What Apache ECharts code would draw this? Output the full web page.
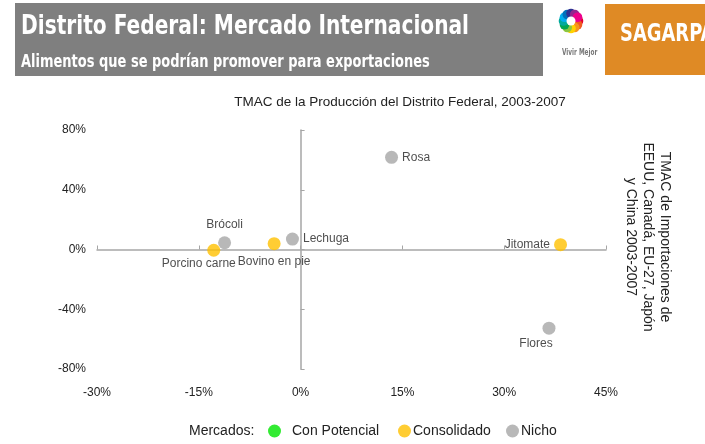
<!DOCTYPE html>
<html>
<head>
<meta charset="utf-8">
<script src="https://cdn.jsdelivr.net/npm/echarts@6/dist/echarts.min.js"></script>
<style>
  html, body { margin: 0; padding: 0; background: #fff; }
  #chart { width: 705px; height: 444px; }
</style>
</head>
<body>
<div id="chart"></div>
<script>
// datos
const productos = ["Rosa", "Jitomate", "Flores", "Brócoli", "Porcino carne", "Bovino en pie", "Lechuga"];
const tmacProduccion = [13.4, 38.3, 36.6, -11.2, -12.8, -3.9, -1.2];
const tmacImportaciones = [61.7, 3.2, -52.7, 4.5, -0.5, 3.9, 7.0];
const mercado = ["Nicho", "Consolidado", "Nicho", "Nicho", "Consolidado", "Consolidado", "Nicho"];
const mercados = ["Con Potencial", "Consolidado", "Nicho"];

// estilos
const colores = { "Con Potencial": "#00E600", "Consolidado": "#FFC000", "Nicho": "#A6A6A6" };
const etiquetas = {
  "Rosa": { position: "right", distance: 4 },
  "Jitomate": { position: "left", distance: 4 },
  "Flores": { position: "bottom", distance: 3, offset: [-13, 0] },
  "Brócoli": { position: "top", distance: 6 },
  "Porcino carne": { position: "bottom", distance: 1, offset: [-15, 0] },
  "Bovino en pie": { position: "bottom", distance: 6 },
  "Lechuga": { position: "right", distance: 4 },
};

const font = "'Liberation Sans', Arial, sans-serif";
const narrow = "'Liberation Sans Narrow', 'Arial Narrow', 'DejaVu Sans Condensed', sans-serif";

var myChart = echarts.init(document.getElementById("chart"));

function puntos(m) {
  var out = [];
  productos.forEach(function (p, i) {
    if (mercado[i] !== m) return;
    out.push({
      name: p,
      value: [tmacProduccion[i], tmacImportaciones[i]],
      label: Object.assign({ show: true, formatter: "{b}" }, etiquetas[p]),
    });
  });
  return out;
}

// logo "Vivir Mejor": petalos de colores
var petalos = [];
var hues = ["#E4002B", "#F15A22", "#F7941D", "#FFD200", "#8DC63F", "#00A651",
            "#00A99D", "#00AEEF", "#0072BC", "#2E3192", "#92278F", "#EC008C"];
hues.forEach(function (c, k) {
  var a = (k / hues.length) * Math.PI * 2;
  petalos.push({
    type: "circle",
    shape: { cx: 571 + Math.cos(a) * 7.5, cy: 21 + Math.sin(a) * 7.5, r: 4.8 },
    style: { fill: c },
  });
});

var option = {
  animation: false,
  textStyle: { fontFamily: font },
  title: {
    text: "TMAC de la Producción del Distrito Federal, 2003-2007",
    left: 400,
    textAlign: "center",
    top: 95,
    padding: 0,
    textStyle: { fontSize: 13.5, fontWeight: "normal", color: "#222", fontFamily: font },
  },
  legend: mercados.map(function (m, k) {
    return {
      data: [m],
      left: [268, 398, 506][k],
      top: 424,
      padding: 0,
      icon: "circle",
      itemWidth: 13,
      itemHeight: 13,
      itemGap: 0,
      selectedMode: false,
      textStyle: { fontSize: 14, color: "#222", fontFamily: font, padding: k === 0 ? [0, 0, 0, 6] : [0, 0, 0, -3] },
    };
  }),
  grid: { left: 97, right: 99, top: 130, bottom: 75 },
  xAxis: [
    {
      type: "value", min: -30, max: 45, interval: 15,
      axisLine: { show: false, onZero: false },
      axisTick: { show: false },
      splitLine: { show: false },
      axisLabel: { formatter: "{value}%", fontSize: 12, color: "#222", margin: 18 },
    },
    {
      type: "value", min: -30, max: 45, interval: 15,
      axisLine: { onZero: true, lineStyle: { color: "#A6A6A6", width: 1.5 } },
      axisTick: { show: true, length: 4, lineStyle: { color: "#A6A6A6" } },
      splitLine: { show: false },
      axisLabel: { show: false },
    },
  ],
  yAxis: [
    {
      type: "value", min: -80, max: 80, interval: 40,
      axisLine: { show: false, onZero: false },
      axisTick: { show: false },
      splitLine: { show: false },
      axisLabel: { formatter: "{value}%", fontSize: 12, color: "#222", margin: 11 },
    },
    {
      type: "value", min: -80, max: 80, interval: 40,
      axisLine: { onZero: true, lineStyle: { color: "#A6A6A6", width: 1.5 } },
      axisTick: { show: true, length: 4, inside: false, lineStyle: { color: "#A6A6A6" } },
      splitLine: { show: false },
      axisLabel: { show: false },
    },
  ],
  series: [
    { name: "Con Potencial", type: "scatter", data: [], itemStyle: { color: colores["Con Potencial"] } },
    {
      name: "Nicho", type: "scatter", symbolSize: 13,
      itemStyle: { color: colores["Nicho"] },
      label: { fontSize: 12, color: "#222" },
      data: puntos("Nicho"),
    },
    {
      name: "Consolidado", type: "scatter", symbolSize: 13,
      itemStyle: { color: colores["Consolidado"] },
      label: { fontSize: 12, color: "#222" },
      data: puntos("Consolidado"),
    },
  ],
  graphic: [
    // encabezado
    { type: "rect", shape: { x: 15, y: 3, width: 528, height: 73 }, style: { fill: "#7F7F7F" } },
    {
      type: "text", x: 21, y: 27, scaleX: 0.83,
      style: { text: "Distrito Federal: Mercado Internacional", fill: "#fff", font: "bold 27px " + narrow, verticalAlign: "middle" },
    },
    {
      type: "text", x: 21, y: 63, scaleX: 0.85,
      style: { text: "Alimentos que se podrían promover para exportaciones", fill: "#fff", font: "bold 17px " + narrow, verticalAlign: "middle" },
    },
    { type: "group", children: petalos },
    { type: "circle", shape: { cx: 571, cy: 21, r: 4.5 }, style: { fill: "#fff" } },
    {
      type: "text", x: 562, y: 53, scaleX: 0.8,
      style: { text: "Vivir Mejor", fill: "#777", font: "bold 8px " + narrow, verticalAlign: "middle" },
    },
    { type: "rect", shape: { x: 605, y: 4, width: 100, height: 71 }, style: { fill: "#DF8A25" } },
    {
      type: "text", x: 620, y: 35, scaleX: 0.83,
      style: { text: "SAGARPA", fill: "#fff", font: "bold 24px " + narrow, verticalAlign: "middle" },
    },
    // titulo del eje vertical derecho
    {
      type: "text", x: 648, y: 237, rotation: -Math.PI / 2,
      style: {
        text: "TMAC de Importaciones de\nEEUU, Canadá, EU-27, Japón\ny China 2003-2007",
        fill: "#222", font: "14px " + font, align: "center", verticalAlign: "middle", lineHeight: 17,
      },
    },
    {
      type: "text", x: 189, y: 431,
      style: { text: "Mercados:", fill: "#222", font: "14px " + font, verticalAlign: "middle" },
    },
  ],
};

myChart.setOption(option);
</script>
</body>
</html>
